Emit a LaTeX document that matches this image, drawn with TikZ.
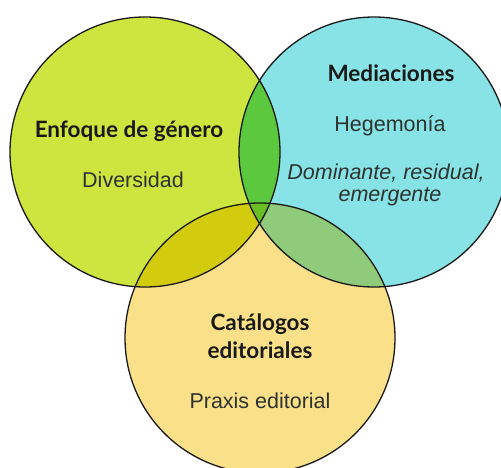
\documentclass[tikz,border=0pt]{standalone}
\usepackage{fontspec}
\setmainfont{Liberation Sans}
\newfontfamily\titlefont{Lato}
\definecolor{cL}{HTML}{CDE53F}
\definecolor{cR}{HTML}{87E3E6}
\definecolor{cB}{HTML}{FBE08A}
\definecolor{cLR}{HTML}{5CC83D}
\definecolor{cLB}{HTML}{D2CB0E}
\definecolor{cRB}{HTML}{8FCB7A}
\definecolor{cLRB}{HTML}{6BBD25}
\definecolor{txt}{HTML}{2E3330}
\tikzset{
  title/.style={anchor=base, font=\titlefont\bfseries\fontsize{22.5}{27}\selectfont, text=black!90, inner sep=0pt},
  body/.style={anchor=base, font=\fontsize{21.5}{25}\selectfont, text=txt, inner sep=0pt},
  ring/.style={draw=black!90, line width=1.3pt}
}
\begin{document}
\begin{tikzpicture}[x=1pt,y=-1pt]
\useasboundingbox (0,0) rectangle (501,467);
\begin{scope}
\clip (0,0) rectangle (501,467);
\coordinate (L) at (145,152);
\coordinate (R) at (374,152);
\coordinate (B) at (260,338);
\def\rad{135}
% base fills
\fill[cL] (L) circle (\rad);
\fill[cR] (R) circle (\rad);
\fill[cB] (B) circle (\rad);
% pairwise overlaps
\begin{scope}\clip (L) circle (\rad); \fill[cLR] (R) circle (\rad);\end{scope}
\begin{scope}\clip (L) circle (\rad); \fill[cLB] (B) circle (\rad);\end{scope}
\begin{scope}\clip (R) circle (\rad); \fill[cRB] (B) circle (\rad);\end{scope}
\begin{scope}\clip (L) circle (\rad); \clip (R) circle (\rad); \fill[cLRB] (B) circle (\rad);\end{scope}
% outlines
\draw[ring] (L) circle (\rad);
\draw[ring] (R) circle (\rad);
\draw[ring] (B) circle (\rad);
\end{scope}
% texts
\node[title] (t1) at (129,137) {Enfoque de género};
\node[body] (s1) at (133,187) {Diversidad};
\node[title] (t2) at (391,81) {Mediaciones};
\node[body] (s2) at (390,131) {Hegemonía};
\node[body, font=\itshape\fontsize{21.5}{25}\selectfont] (s3) at (386,179) {Dominante, residual,};
\node[body, font=\itshape\fontsize{21.5}{25}\selectfont] (s4) at (390,201) {emergente};
\node[title] (t3) at (260,330) {Catálogos};
\node[title] (t4) at (260,358) {editoriales};
\node[body] (s5) at (260,408) {Praxis editorial};
\end{tikzpicture}
\end{document}
